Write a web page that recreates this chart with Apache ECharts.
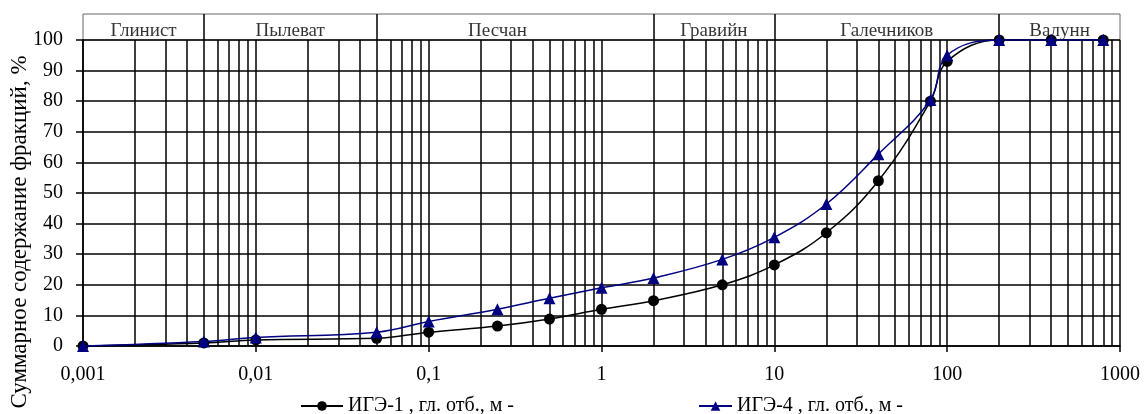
<!DOCTYPE html>
<html>
<head>
<meta charset="utf-8">
<script src="https://cdn.jsdelivr.net/npm/echarts@6/dist/echarts.min.js"></script>
<style>html,body{margin:0;padding:0;background:#fff}#c{width:1148px;height:414px}</style>
</head>
<body>
<div id="c"></div>
<script>
// ---- data ----
const xTickLabels = ['0,001', '0,01', '0,1', '1', '10', '100', '1000'];
const sizes = [0.001, 0.005, 0.01, 0.05, 0.1, 0.25, 0.5, 1, 2, 5, 10, 20, 40, 80, 100, 200, 400, 800];
const ige1 = [0, 1, 2, 2.5, 4.5, 6.5, 8.8, 12, 14.8, 20, 26.5, 37, 54, 80, 93, 100, 100, 100];
const ige4 = [0, 1.5, 2.8, 4.5, 8, 12, 15.6, 19, 22.2, 28.3, 35.5, 46.4, 62.7, 80.4, 95, 100, 100, 100];
const seriesNames = ['ИГЭ-1 , гл. отб., м -', 'ИГЭ-4 , гл. отб., м -'];
const headerNames = ['Глинист', 'Пылеват', 'Песчан', 'Гравийн', 'Галечников', 'Валунн'];
const headerLabelPos = [0.00224, 0.0158, 0.25, 4.47, 44.7, 447];
const headerBounds = [0.005, 0.05, 2, 10, 200];
const yName = 'Суммарное содержание фракций, %';

// minor log grid values (2..9 of each decade)
const minorGrid = [];
for (let e = -3; e < 3; e++) {
  for (let m = 2; m <= 9; m++) minorGrid.push(+(m * Math.pow(10, e)).toPrecision(3));
}

const FONT = '"Liberation Serif", "Times New Roman", serif';
const BLK = '#000';
const gridLine = { color: BLK, width: 1.5 };

const chart = echarts.init(document.getElementById('c'));
chart.setOption({
  animation: false,
  backgroundColor: '#fff',
  textStyle: { fontFamily: FONT },
  grid: [
    { left: 83, right: 28, top: 40, height: 306 },
    { left: 83, right: 28, top: 14, height: 26, show: true, borderColor: '#666', borderWidth: 1 }
  ],
  xAxis: [
    {
      type: 'log', logBase: 10, min: 0.001, max: 1000, gridIndex: 0,
      axisLine: { lineStyle: gridLine },
      axisTick: { show: true, length: 6, lineStyle: gridLine },
      axisLabel: {
        fontSize: 20, color: BLK, margin: 19, fontFamily: FONT,
        formatter: v => xTickLabels[Math.round(Math.log10(v)) + 3]
      },
      splitLine: { show: true, lineStyle: gridLine },
      minorTick: { show: false }
    },
    { type: 'log', logBase: 10, min: 0.001, max: 1000, gridIndex: 1, show: false }
  ],
  yAxis: [
    {
      type: 'value', min: 0, max: 100, interval: 10, gridIndex: 0,
      axisLine: { show: true, lineStyle: gridLine },
      axisTick: { show: true, length: 7, lineStyle: gridLine },
      axisLabel: { fontSize: 20, color: BLK, margin: 20, fontFamily: FONT },
      splitLine: { show: true, lineStyle: gridLine }
    },
    { type: 'value', min: 0, max: 1, gridIndex: 1, show: false }
  ],
  legend: [
    {
      data: [seriesNames[0]], left: 295, top: 391, itemWidth: 42, itemHeight: 12, itemGap: 5,
      textStyle: { fontSize: 20, color: BLK, fontFamily: FONT }
    },
    {
      data: [seriesNames[1]], left: 693, top: 391, itemWidth: 33, itemHeight: 12, itemGap: 5,
      textStyle: { fontSize: 20, color: BLK, fontFamily: FONT }
    }
  ],
  graphic: [
    {
      type: 'text', x: 20, y: 232, rotation: Math.PI / 2,
      style: {
        text: yName, fill: BLK, font: '23px ' + FONT,
        textAlign: 'center', textVerticalAlign: 'middle'
      }
    }
  ],
  series: [
    {
      type: 'line', xAxisIndex: 0, yAxisIndex: 0, data: [], silent: true, z: 1,
      markLine: {
        silent: true, symbol: ['none', 'none'], animation: false, precision: 6,
        label: { show: false },
        lineStyle: { color: BLK, width: 1.5, type: 'solid' },
        data: minorGrid.map(v => ({ xAxis: v }))
      }
    },
    {
      type: 'line', xAxisIndex: 1, yAxisIndex: 1, data: [], silent: true, z: 1,
      markLine: {
        silent: true, symbol: ['none', 'none'], animation: false, precision: 6,
        label: { show: false },
        lineStyle: { color: BLK, width: 1.5, type: 'solid' },
        data: headerBounds.map(v => ({ xAxis: v }))
      }
    },
    {
      type: 'scatter', xAxisIndex: 1, yAxisIndex: 1, silent: true, symbolSize: 0.1, z: 2,
      data: headerNames.map((n, i) => ({ name: n, value: [headerLabelPos[i], 0.35] })),
      label: { show: true, position: 'inside', formatter: '{b}', fontSize: 19, color: BLK, fontFamily: FONT }
    },
    {
      name: seriesNames[0], type: 'line', xAxisIndex: 0, yAxisIndex: 0, z: 4,
      data: sizes.map((s, i) => [s, ige1[i]]),
      smooth: 0.4, clip: false,
      symbol: 'circle', symbolSize: 11,
      itemStyle: { color: BLK },
      lineStyle: { color: BLK, width: 1.5 }
    },
    {
      name: seriesNames[1], type: 'line', xAxisIndex: 0, yAxisIndex: 0, z: 5,
      data: sizes.map((s, i) => [s, ige4[i]]),
      smooth: 0.4, clip: false,
      symbol: 'triangle', symbolSize: 12,
      itemStyle: { color: '#000080' },
      lineStyle: { color: '#000080', width: 1.5 }
    }
  ]
});
</script>
</body>
</html>
